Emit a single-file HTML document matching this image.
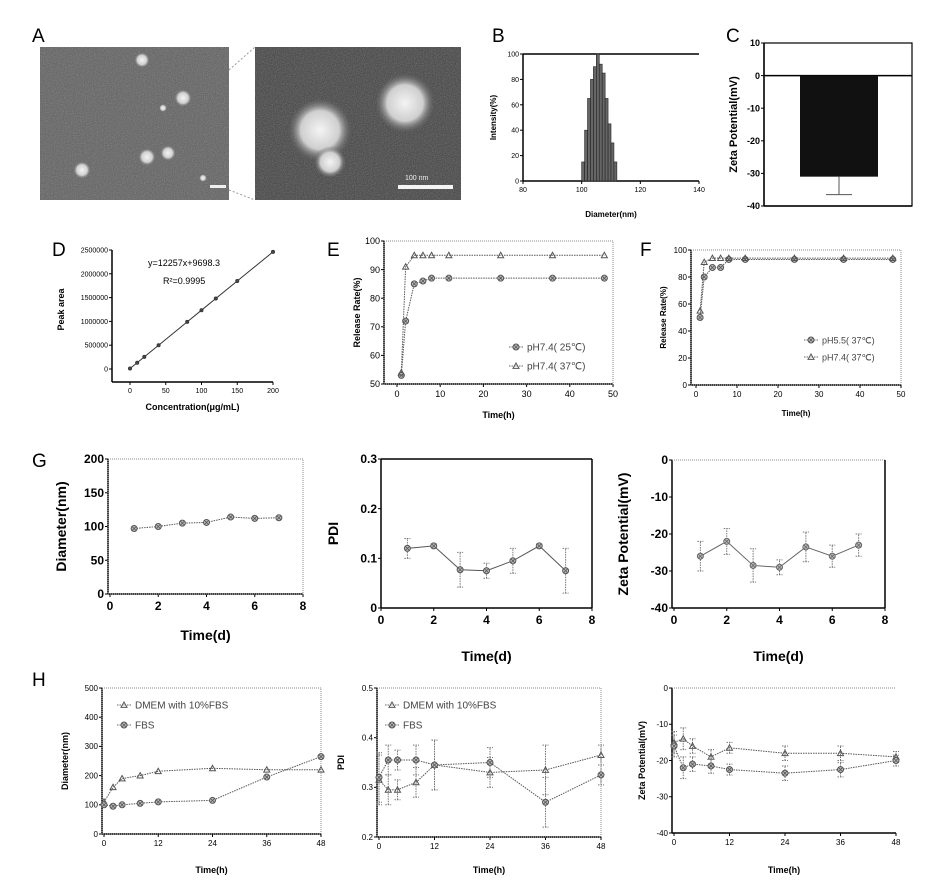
<!DOCTYPE html>
<html><head><meta charset="utf-8"><style>
body{margin:0;background:#fff;width:927px;height:892px;overflow:hidden}
svg{display:block;font-family:"Liberation Sans",sans-serif}
</style></head><body>
<svg id="fig" width="927" height="892" viewBox="0 0 927 892" xmlns="http://www.w3.org/2000/svg">
<defs>
<filter id="noise" x="0" y="0" width="1" height="1"><feTurbulence type="fractalNoise" baseFrequency="0.9" numOctaves="2" seed="3"/><feColorMatrix type="saturate" values="0"/><feComponentTransfer><feFuncA type="linear" slope="0.4"/></feComponentTransfer></filter>
<radialGradient id="blob"><stop offset="0" stop-color="#f4f4f4"/><stop offset="0.6" stop-color="#cfcfcf"/><stop offset="1" stop-color="#666" stop-opacity="0"/></radialGradient>
</defs>
<g id="tem">
<rect x="40" y="47" width="189" height="153" fill="#5e5e5e"/>
<rect x="40" y="47" width="189" height="153" filter="url(#noise)"/>
<circle cx="142" cy="60" r="8" fill="url(#blob)"/><circle cx="183" cy="98" r="9" fill="url(#blob)"/>
<circle cx="163" cy="108" r="4" fill="url(#blob)"/><circle cx="168" cy="153" r="8" fill="url(#blob)"/>
<circle cx="147" cy="157" r="9" fill="url(#blob)"/><circle cx="82" cy="170" r="9" fill="url(#blob)"/>
<circle cx="203" cy="178" r="4" fill="url(#blob)"/>
<rect x="210" y="185" width="16" height="3" fill="#eee"/>
<rect x="255" y="47" width="206" height="153" fill="#404040"/>
<rect x="255" y="47" width="206" height="153" filter="url(#noise)"/>
<circle cx="320" cy="130" r="32" fill="url(#blob)"/><circle cx="405" cy="103" r="30" fill="url(#blob)"/>
<circle cx="330" cy="162" r="16" fill="url(#blob)"/>
<rect x="398" y="185" width="55" height="4" fill="#f4f4f4"/>
<text x="405" y="180" font-size="7" fill="#eee">100 nm</text>
<line x1="229" y1="70" x2="255" y2="47" stroke="#999" stroke-dasharray="2,2"/>
<line x1="229" y1="190" x2="255" y2="200" stroke="#999" stroke-dasharray="2,2"/>
</g>
</svg>
<script>
// ---- data ----
const bBins=[100,101,102,103,104,105,106,107,108,109,110,111];
const bHeights=[15,40,65,80,90,100,92,85,65,45,30,15];
const cZeta=[-31];
const cErr=[5.5];
const dConc=[0,10,20,40,80,100,120,150,200];
const dArea=[9698,132268,254838,499978,990258,1235398,1480538,1848248,2461098];
const eTime=[1,2,4,6,8,12,24,36,48];
const e25=[53,72,85,86,87,87,87,87,87];
const e37=[54,91,95,95,95,95,95,95,95];
const fTime=[1,2,4,6,8,12,24,36,48];
const f55=[50,80,87,87,93,93,93,93,93];
const f74=[55,91,94,94,94,94,94,94,94];
const gDays=[1,2,3,4,5,6,7];
const gDiam=[97,100,105,106,114,112,113];
const gPdi=[0.12,0.125,0.077,0.075,0.095,0.125,0.075];
const gPdiErr=[0.02,0.004,0.035,0.015,0.025,0.004,0.045];
const gZeta=[-26,-22,-28.5,-29,-23.5,-26,-23];
const gZetaErr=[4,3.5,4.5,2,4,3,3];
const hTime=[0,2,4,8,12,24,36,48];
const hDiamDmem=[110,160,190,200,215,225,220,220];
const hDiamFbs=[100,95,100,105,110,115,195,265];
const hPdiDmem=[0.315,0.295,0.295,0.31,0.345,0.33,0.335,0.365];
const hPdiFbs=[0.32,0.355,0.355,0.355,0.345,0.35,0.27,0.325];
const hPdiErr=[0.05,0.03,0.02,0.03,0.05,0.03,0.05,0.02];
const hZetaDmem=[-15,-14,-16,-19,-16.5,-18,-18,-19];
const hZetaFbs=[-16,-22,-21,-21.5,-22.5,-23.5,-22.5,-20];
const hZetaErr=[3,3,2,2,1.5,2,2,1.5];

const NS="http://www.w3.org/2000/svg";
const svg=document.getElementById('fig');
function el(tag,attrs,parent){const e=document.createElementNS(NS,tag);for(const k in attrs)e.setAttribute(k,attrs[k]);(parent||svg).appendChild(e);return e;}
function txt(s,attrs,parent){const t=el('text',attrs,parent);t.textContent=s;return t;}

function axes(c){
  const g=el('g',{});
  
  
  const sx=v=>c.x0+(v-c.xmin)/(c.xmax-c.xmin)*(c.x1-c.x0);
  const sy=v=>c.y0+(v-c.ymin)/(c.ymax-c.ymin)*(c.y1-c.y0);
  const L=c.left||c.x0-3;
  const AY=c.axisY||c.y0;
  if(c.frame) el('rect',{x:L,y:c.y1,width:c.x1-L,height:c.y0-c.y1,fill:'none',stroke:'#888','stroke-width':1,'stroke-dasharray':'1,1'},g);
  el('line',{x1:L,y1:AY,x2:c.x1,y2:AY,stroke:'#000','stroke-width':1.5},g);
  el('line',{x1:L,y1:AY,x2:L,y2:c.y1,stroke:'#000','stroke-width':1.5},g);
  const fs=c.fs||9, fw=c.bold?'bold':'normal';
  c.xt.forEach(v=>{el('line',{x1:sx(v),y1:AY,x2:sx(v),y2:AY+3,stroke:'#000'},g);
    const t=txt(String(v),{x:sx(v),y:AY+fs+4,'font-size':fs,'text-anchor':'middle','font-weight':fw},g);
    });
  c.yt.forEach(v=>{el('line',{x1:L-3,y1:sy(v),x2:L,y2:sy(v),stroke:'#000'},g);
    const t=txt(String(v),{x:L-4,y:sy(v)+fs*0.35,'font-size':fs,'text-anchor':'end','font-weight':fw},g);
    });
  const tfs=c.tfs||fs+1;
  const xl=txt(c.xlabel,{x:(L+c.x1)/2,y:c.xly,'font-size':tfs,'text-anchor':'middle','font-weight':'bold'},g);
  
  const yl=txt(c.ylabel,{x:0,y:0,'font-size':tfs,'text-anchor':'middle','font-weight':'bold',transform:`translate(${c.ylx},${(c.y0+c.y1)/2}) rotate(-90)`},g);
  
  return {g,sx,sy};
}
function marker(g,x,y,r,shape,col){
  col=col||'#555';
  if(shape==='tri'){el('path',{d:`M${x},${y-r}L${x+r},${y+r*0.8}L${x-r},${y+r*0.8}Z`,fill:'none',stroke:col,'stroke-width':1},g);}
  else{el('circle',{cx:x,cy:y,r:r,fill:'#bbb',stroke:col,'stroke-width':1},g);
    el('path',{d:`M${x-r*0.7},${y-r*0.7}L${x+r*0.7},${y+r*0.7}M${x+r*0.7},${y-r*0.7}L${x-r*0.7},${y+r*0.7}`,stroke:col,'stroke-width':0.8},g);}
}
function series(ax,xs,ys,opt){
  opt=opt||{};
  const g=el('g',{},ax.g);
  
  
  const pts=xs.map((x,i)=>ax.sx(x)+','+ax.sy(ys[i])).join(' ');
  el('polyline',{points:pts,fill:'none',stroke:opt.col||'#555','stroke-width':opt.sw||1,'stroke-dasharray':opt.dash||'none'},g);
  xs.forEach((x,i)=>{
    if(opt.err){const e=opt.err[i];const X=ax.sx(x);
      el('path',{d:`M${X},${ax.sy(ys[i]-e)}L${X},${ax.sy(ys[i]+e)}M${X-3},${ax.sy(ys[i]-e)}L${X+3},${ax.sy(ys[i]-e)}M${X-3},${ax.sy(ys[i]+e)}L${X+3},${ax.sy(ys[i]+e)}`,stroke:'#777','stroke-width':1,'stroke-dasharray':'1.5,1'},g);}
    marker(g,ax.sx(x),ax.sy(ys[i]),opt.r||3,opt.shape,opt.col);
  });
}
function legend(ax,x,y,label,shape,fs){
  const g=el('g',{},ax.g);
  
  
  el('line',{x1:x,y1:y,x2:x+14,y2:y,stroke:'#666','stroke-dasharray':'1.5,1'},g);
  marker(g,x+7,y,3,shape);
  txt(label,{x:x+18,y:y+3.5,'font-size':fs||9,fill:'#444'},g);
}
function letter(s,x,y){const t=txt(s,{x:x,y:y,'font-size':19});}

letter('A',32,42);letter('B',492,42);letter('C',726,42);letter('D',52,256);letter('E',327,256);letter('F',640,256);letter('G',32,467);letter('H',32,686);

// B
let B=axes({name:'chart-b-size-distribution',x0:523,x1:699,xmin:80,xmax:140,y0:181,y1:54,ymin:0,ymax:100,left:523,xt:[80,100,120,140],yt:[0,20,40,60,80,100],fs:7,tfs:8,xlabel:'Diameter(nm)',xly:217,ylabel:'Intensity(%)',ylx:496});
el('line',{x1:523,y1:54,x2:699,y2:54,stroke:'#000','stroke-width':1.5},B.g);
bBins.forEach((b,i)=>{const r=el('rect',{x:B.sx(b),y:B.sy(bHeights[i]),width:B.sx(b+1)-B.sx(b),height:B.sy(0)-B.sy(bHeights[i]),fill:'#666',stroke:'#222','stroke-width':0.6},B.g);
  });

// C
let C=axes({name:'chart-c-zeta',x0:767,x1:912,xmin:0,xmax:1,y0:206,y1:43,ymin:-40,ymax:10,left:764,xt:[],yt:[10,0,-10,-20,-30,-40],fs:9,tfs:11,bold:true,xlabel:'',xly:230,ylabel:'Zeta Potential(mV)',ylx:737});
el('rect',{x:764,y:43,width:148,height:163,fill:'none',stroke:'#000','stroke-width':1.2},C.g);
el('line',{x1:764,y1:C.sy(0),x2:912,y2:C.sy(0),stroke:'#000','stroke-width':1.5},C.g);
cZeta.forEach((v,i)=>{const r=el('rect',{x:800,y:C.sy(0),width:78,height:C.sy(v)-C.sy(0),fill:'#111'},C.g);
  
  el('path',{d:`M839,${C.sy(v)}L839,${C.sy(v-cErr[i])}M826,${C.sy(v-cErr[i])}L852,${C.sy(v-cErr[i])}`,stroke:'#555'},C.g);});

// D
let D=axes({name:'chart-d-standard-curve',x0:130,x1:273,xmin:0,xmax:200,y0:369,y1:250,ymin:0,ymax:2500000,left:112,axisY:382,xt:[0,50,100,150,200],yt:[0,500000,1000000,1500000,2000000,2500000],fs:7,tfs:9,xlabel:'Concentration(μg/mL)',xly:410,ylabel:'Peak area',ylx:64});
series(D,dConc,dArea,{name:'standard-curve',r:1.5,col:'#333'});
txt('y=12257x+9698.3',{x:148,y:266,'font-size':9},D.g);
txt('R²=0.9995',{x:163,y:284,'font-size':9},D.g);

// E
let E=axes({name:'chart-e-release-ph74',x0:397,x1:613,xmin:0,xmax:50,y0:384,y1:241,ymin:50,ymax:100,left:384,xt:[0,10,20,30,40,50],yt:[50,60,70,80,90,100],fs:9,tfs:9,xlabel:'Time(h)',xly:418,ylabel:'Release Rate(%)',ylx:360});
el('rect',{x:384,y:241,width:229,height:143,fill:'none',stroke:'#888','stroke-dasharray':'1,1'},E.g);
series(E,eTime,e25,{name:'series-ph74-25c',dash:'1.5,1'});
series(E,eTime,e37,{name:'series-ph74-37c',dash:'1.5,1',shape:'tri'});
legend(E,509,347,'pH7.4( 25℃)',null,10);legend(E,509,366,'pH7.4( 37℃)','tri',10);

// F
let F=axes({name:'chart-f-release-ph',x0:696,x1:901,xmin:0,xmax:50,y0:385,y1:250,ymin:0,ymax:100,left:691,xt:[0,10,20,30,40,50],yt:[0,20,40,60,80,100],fs:8,tfs:8,xlabel:'Time(h)',xly:416,ylabel:'Release Rate(%)',ylx:666});
el('rect',{x:691,y:250,width:210,height:135,fill:'none',stroke:'#888','stroke-dasharray':'1,1'},F.g);
series(F,fTime,f55,{name:'series-ph55',dash:'1.5,1'});
series(F,fTime,f74,{name:'series-ph74',dash:'1.5,1',shape:'tri'});
legend(F,804,340,'pH5.5( 37℃)',null,9);legend(F,804,357,'pH7.4( 37℃)','tri',9);

// G
let G1=axes({name:'chart-g-diameter',x0:110,x1:303,xmin:0,xmax:8,y0:594,y1:459,ymin:0,ymax:200,left:108,xt:[0,2,4,6,8],yt:[0,50,100,150,200],fs:12,tfs:14,bold:true,xlabel:'Time(d)',xly:640,ylabel:'Diameter(nm)',ylx:66});
el('rect',{x:108,y:459,width:195,height:135,fill:'none',stroke:'#888','stroke-dasharray':'1,1'},G1.g);
series(G1,gDays,gDiam,{name:'series-diameter',dash:'1.5,1'});
let G2=axes({name:'chart-g-pdi',x0:381,x1:592,xmin:0,xmax:8,y0:608,y1:459,ymin:0,ymax:0.3,left:381,xt:[0,2,4,6,8],yt:['0.0','0.1','0.2','0.3'].map(Number),fs:12,tfs:14,bold:true,xlabel:'Time(d)',xly:661,ylabel:'PDI',ylx:338});
el('line',{x1:381,y1:459,x2:592,y2:459,stroke:'#000','stroke-width':1.5},G2.g);
el('line',{x1:592,y1:459,x2:592,y2:608,stroke:'#000','stroke-width':1.5},G2.g);
series(G2,gDays,gPdi,{name:'series-pdi',err:gPdiErr});
let G3=axes({name:'chart-g-zeta',x0:674,x1:885,xmin:0,xmax:8,y0:608,y1:460,ymin:-40,ymax:0,left:672,xt:[0,2,4,6,8],yt:[0,-10,-20,-30,-40],fs:12,tfs:14,bold:true,xlabel:'Time(d)',xly:661,ylabel:'Zeta Potential(mV)',ylx:628});
el('line',{x1:672,y1:460,x2:885,y2:460,stroke:'#888','stroke-dasharray':'1,1'},G3.g);
el('line',{x1:885,y1:460,x2:885,y2:608,stroke:'#000','stroke-width':1.5},G3.g);
series(G3,gDays,gZeta,{name:'series-zeta',err:gZetaErr,col:'#666'});

// H
let H1=axes({name:'chart-h-diameter',x0:104,x1:321,xmin:0,xmax:48,y0:834,y1:688,ymin:0,ymax:500,left:102,xt:[0,12,24,36,48],yt:[0,100,200,300,400,500],fs:8,tfs:9,xlabel:'Time(h)',xly:873,ylabel:'Diameter(nm)',ylx:68});
el('rect',{x:102,y:688,width:219,height:146,fill:'none',stroke:'#888','stroke-dasharray':'1,1'},H1.g);
series(H1,hTime,hDiamDmem,{name:'series-dmem',dash:'1.5,1',shape:'tri'});
series(H1,hTime,hDiamFbs,{name:'series-fbs',dash:'1.5,1'});
legend(H1,117,705,'DMEM with 10%FBS','tri',10);legend(H1,117,725,'FBS',null,10);
let H2=axes({name:'chart-h-pdi',x0:379,x1:601,xmin:0,xmax:48,y0:837,y1:688,ymin:0.2,ymax:0.5,left:377,xt:[0,12,24,36,48],yt:[0.2,0.3,0.4,0.5],fs:8,tfs:9,xlabel:'Time(h)',xly:873,ylabel:'PDI',ylx:344});
el('rect',{x:377,y:688,width:224,height:149,fill:'none',stroke:'#888','stroke-dasharray':'1,1'},H2.g);
series(H2,hTime,hPdiDmem,{name:'series-dmem',dash:'1.5,1',shape:'tri',err:hPdiErr});
series(H2,hTime,hPdiFbs,{name:'series-fbs',dash:'1.5,1',err:hPdiErr});
legend(H2,385,705,'DMEM with 10%FBS','tri',10);legend(H2,385,725,'FBS',null,10);
let H3=axes({name:'chart-h-zeta',x0:674,x1:896,xmin:0,xmax:48,y0:833,y1:688,ymin:-40,ymax:0,left:672,xt:[0,12,24,36,48],yt:[0,-10,-20,-30,-40],fs:8,tfs:9,xlabel:'Time(h)',xly:873,ylabel:'Zeta Potential(mV)',ylx:645});
el('line',{x1:672,y1:688,x2:896,y2:688,stroke:'#888','stroke-dasharray':'1,1'},H3.g);
series(H3,hTime,hZetaDmem,{name:'series-dmem',dash:'1.5,1',shape:'tri',err:hZetaErr});
series(H3,hTime,hZetaFbs,{name:'series-fbs',dash:'1.5,1',err:hZetaErr});
</script>
</body></html>
